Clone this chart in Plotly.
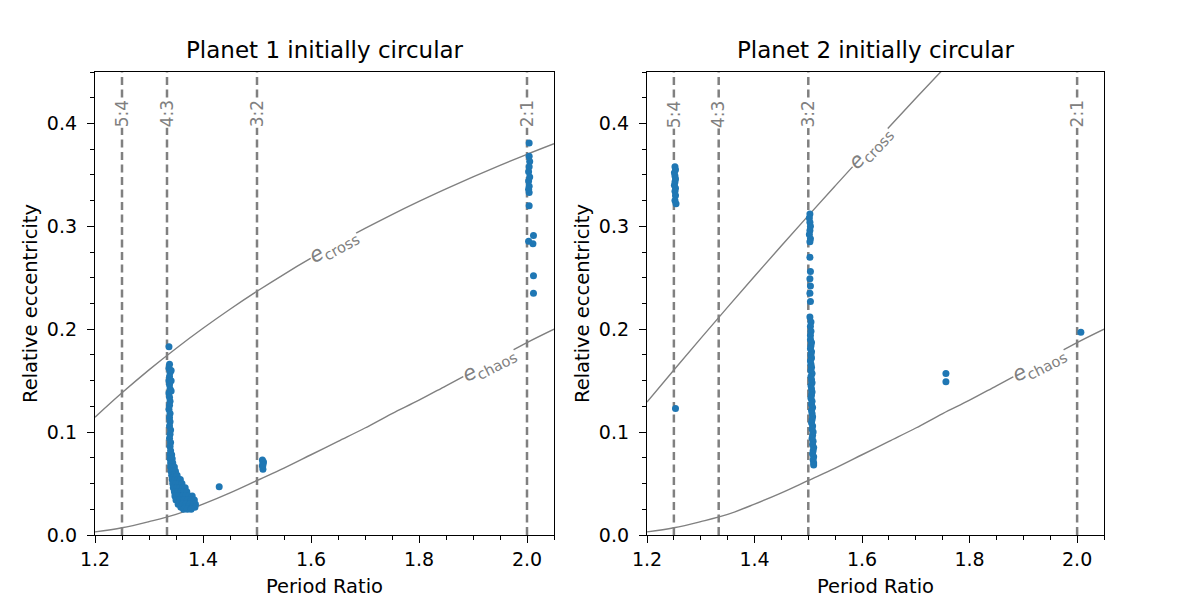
import plotly.graph_objects as go

# ---------------- data ----------------
resonances = [1.25, 4/3, 1.5, 2.0]
res_labels = ["5:4", "4:3", "3:2", "2:1"]

curve_p = [1.2, 1.25, 1.3, 1.35, 1.4, 1.45, 1.5, 1.55, 1.6, 1.65, 1.7, 1.75,
           1.8, 1.85, 1.9, 1.95, 2.0, 2.05]
ecross_left = [0.1145, 0.1382, 0.1605, 0.1813, 0.2009, 0.2194, 0.2369, 0.2534,
               0.2690, 0.2838, 0.2979, 0.3114, 0.3242, 0.3364, 0.3481, 0.3593,
               0.3700, 0.3803]
ecross_right_p = [1.2, 1.25, 1.3, 1.35, 1.4, 1.45, 1.5, 1.55, 1.6, 1.65, 1.7, 1.75, 1.8]
ecross_right = [0.1292, 0.1604, 0.1911, 0.2215, 0.2515, 0.2811, 0.3104, 0.3393,
                0.3680, 0.3963, 0.4244, 0.4522, 0.4797]
echaos = [0.003, 0.007, 0.013, 0.020, 0.030, 0.041, 0.053, 0.065, 0.078, 0.091,
          0.104, 0.118, 0.131, 0.145, 0.159, 0.173, 0.187, 0.200]

# Planet 1 initially circular
p1_x = [1.337, 1.430,
        1.510, 1.511, 1.510, 1.511, 1.512, 1.511,
        2.004, 2.004, 2.005, 2.003, 2.003, 2.004, 2.004, 2.004, 2.012, 2.011, 2.003,
        2.012, 2.012, 2.004, 2.005, 2.003,
        1.338, 1.337, 1.339, 1.338, 1.337, 1.338, 1.339, 1.337, 1.338, 1.339, 1.338,
        1.337, 1.339, 1.338, 1.339, 1.338, 1.340, 1.339, 1.338, 1.340, 1.339, 1.340,
        1.341, 1.341, 1.341,
        1.339, 1.342,
        1.339, 1.343,
        1.340, 1.344,
        1.340, 1.344, 1.347,
        1.341, 1.345, 1.349,
        1.342, 1.347, 1.352,
        1.343, 1.348, 1.354, 1.358,
        1.344, 1.350, 1.356, 1.361,
        1.345, 1.351, 1.357, 1.363, 1.367,
        1.347, 1.353, 1.359, 1.365, 1.370,
        1.348, 1.355, 1.362, 1.368, 1.374, 1.380,
        1.350, 1.357, 1.364, 1.371, 1.378, 1.384,
        1.354, 1.361, 1.368, 1.375, 1.382, 1.386,
        1.359, 1.366, 1.373, 1.380, 1.385,
        1.364, 1.371, 1.378]
p1_y = [0.183, 0.047,
        0.073, 0.070, 0.067, 0.064, 0.071, 0.068,
        0.381, 0.368, 0.363, 0.353, 0.344, 0.339, 0.333, 0.320, 0.291, 0.283, 0.2855,
        0.252, 0.235, 0.358, 0.348, 0.336,
        0.166, 0.162, 0.158, 0.154, 0.150, 0.146, 0.142, 0.138, 0.134, 0.130, 0.126,
        0.122, 0.118, 0.114, 0.110, 0.106, 0.102, 0.098, 0.094, 0.090, 0.086, 0.082,
        0.160, 0.150, 0.140,
        0.078, 0.078,
        0.074, 0.074,
        0.070, 0.070,
        0.066, 0.066, 0.066,
        0.062, 0.062, 0.062,
        0.058, 0.058, 0.058,
        0.054, 0.054, 0.054, 0.054,
        0.050, 0.050, 0.050, 0.050,
        0.046, 0.046, 0.046, 0.046, 0.046,
        0.042, 0.042, 0.042, 0.042, 0.042,
        0.038, 0.038, 0.038, 0.038, 0.038, 0.038,
        0.034, 0.034, 0.034, 0.034, 0.034, 0.034,
        0.030, 0.030, 0.030, 0.030, 0.030, 0.030,
        0.027, 0.027, 0.027, 0.027, 0.027,
        0.025, 0.025, 0.025]

# Planet 2 initially circular
p2_x = [1.252, 1.253, 1.251, 1.252, 1.253, 1.252, 1.251, 1.253, 1.252, 1.253, 1.252, 1.254,
        1.253,
        1.503, 1.502, 1.503, 1.504, 1.503, 1.502, 1.504, 1.503,
        1.503, 1.504, 1.503, 1.504, 1.503, 1.504, 1.503, 1.505, 1.504, 1.505, 1.504,
        1.504, 1.506, 1.505, 1.504, 1.506, 1.505, 1.506, 1.504, 1.505, 1.506,
        1.505, 1.507, 1.505, 1.506, 1.507, 1.505, 1.506, 1.507, 1.506, 1.505,
        1.507, 1.506, 1.508, 1.506, 1.507, 1.508, 1.507, 1.506, 1.508, 1.507,
        1.509, 1.508, 1.507, 1.509, 1.508, 1.510, 1.509, 1.508, 1.510, 1.509,
        1.510, 1.510,
        1.756, 1.756, 2.007]
p2_y = [0.358, 0.355, 0.352, 0.349, 0.346, 0.343, 0.340, 0.337, 0.334, 0.330, 0.325, 0.322,
        0.123,
        0.312, 0.308, 0.304, 0.300, 0.296, 0.292, 0.288, 0.285,
        0.270, 0.256, 0.249, 0.242, 0.235, 0.227, 0.212, 0.207, 0.203, 0.198, 0.194,
        0.190, 0.187, 0.184, 0.181, 0.178, 0.175, 0.172, 0.169, 0.166, 0.163,
        0.160, 0.157, 0.154, 0.151, 0.148, 0.145, 0.142, 0.139, 0.136, 0.133,
        0.130, 0.127, 0.124, 0.121, 0.118, 0.115, 0.112, 0.109, 0.106, 0.103,
        0.100, 0.097, 0.094, 0.091, 0.088, 0.085, 0.082, 0.079, 0.076, 0.073,
        0.070, 0.068,
        0.157, 0.149, 0.197]

# ---------------- figure ----------------
GRAY = "#808080"
BLUE = "#1f77b4"
FONT = "DejaVu Sans"

fig = go.Figure()

def add_panel(xa, ya, cross_p, cross_e, px, py, cross_lab, chaos_lab):
    fig.add_trace(go.Scatter(x=cross_p, y=cross_e, mode="lines", line=dict(color=GRAY, width=1.4, shape="spline"),
                             xaxis=xa, yaxis=ya, showlegend=False, hoverinfo="skip"))
    fig.add_trace(go.Scatter(x=curve_p, y=echaos, mode="lines", line=dict(color=GRAY, width=1.4, shape="spline"),
                             xaxis=xa, yaxis=ya, showlegend=False, hoverinfo="skip"))
    fig.add_trace(go.Scatter(x=px, y=py, mode="markers", marker=dict(color=BLUE, size=7, line=dict(width=0)),
                             xaxis=xa, yaxis=ya, showlegend=False))
    xref = "x" if xa == "x" else "x2"
    yref = "y" if ya == "y" else "y2"
    for r, lab in zip(resonances, res_labels):
        fig.add_shape(type="line", x0=r, x1=r, y0=0, y1=1, xref=xref, yref=yref + " domain",
                      line=dict(color=GRAY, width=2.5, dash="8px,4.5px"), layer="below")
        fig.add_annotation(x=r, y=0.94, xref=xref, yref=yref + " domain", text=lab, showarrow=False,
                           textangle=-90, font=dict(family=FONT, size=17, color=GRAY),
                           bgcolor="white", borderpad=0)
    # curve labels
    fig.add_annotation(x=cross_lab[0], y=cross_lab[1], xref=xref, yref=yref, text="<i>e</i><sub>cross</sub>",
                       showarrow=False, textangle=cross_lab[2], font=dict(family=FONT, size=21, color=GRAY),
                       bgcolor="white", borderpad=0)
    fig.add_annotation(x=chaos_lab[0], y=chaos_lab[1], xref=xref, yref=yref, text="<i>e</i><sub>chaos</sub>",
                       showarrow=False, textangle=chaos_lab[2], font=dict(family=FONT, size=21, color=GRAY),
                       bgcolor="white", borderpad=0)

add_panel("x", "y", curve_p, ecross_left, p1_x, p1_y, (1.641, 0.281, -29), (1.93, 0.166, -27))
add_panel("x2", "y2", ecross_right_p, ecross_right, p2_x, p2_y, (1.615, 0.376, -47), (1.93, 0.166, -27))

axis_common = dict(showline=True, linecolor="black", linewidth=1.3, mirror=True, ticks="outside",
                   ticklen=7, tickwidth=1.3, tickcolor="black", showgrid=False, zeroline=False,
                   automargin=False,
                   tickfont=dict(family=FONT, size=19, color="black"))

xticks = [1.2, 1.4, 1.6, 1.8, 2.0]
yticks = [0.0, 0.1, 0.2, 0.3, 0.4]
TITLE_FONT = dict(family=FONT, size=19.5)

fig.update_layout(
    width=1200, height=600, margin=dict(l=0, r=0, t=0, b=0),
    plot_bgcolor="white", paper_bgcolor="white",
    font=dict(family=FONT, color="black"),
    xaxis=dict(domain=[95/1200, 554/1200], range=[1.2, 2.05], tickvals=xticks,
               ticktext=[f"{v:.1f}" for v in xticks], anchor="y",
               minor=dict(dtick=0.05, ticks="outside", ticklen=4, tickcolor="black"),
               title=dict(text="Period Ratio", font=TITLE_FONT, standoff=10), **axis_common),
    yaxis=dict(domain=[1-535/600, 1-72/600], range=[0, 0.45], tickvals=yticks,
               ticktext=[f"{v:.1f}" for v in yticks], anchor="x", ticklabelstandoff=6,
               minor=dict(dtick=0.025, ticks="outside", ticklen=4, tickcolor="black"),
               title=dict(text="Relative eccentricity", font=TITLE_FONT, standoff=4), **axis_common),
    xaxis2=dict(domain=[647/1200, 1104/1200], range=[1.2, 2.05], tickvals=xticks,
                ticktext=[f"{v:.1f}" for v in xticks], anchor="y2",
                minor=dict(dtick=0.05, ticks="outside", ticklen=4, tickcolor="black"),
                title=dict(text="Period Ratio", font=TITLE_FONT, standoff=10), **axis_common),
    yaxis2=dict(domain=[1-535/600, 1-72/600], range=[0, 0.45], tickvals=yticks,
                ticktext=[f"{v:.1f}" for v in yticks], anchor="x2", ticklabelstandoff=6,
                minor=dict(dtick=0.025, ticks="outside", ticklen=4, tickcolor="black"),
                title=dict(text="Relative eccentricity", font=TITLE_FONT, standoff=4), **axis_common),
)

for xc, t in [((95+554)/2/1200, "Planet 1 initially circular"), ((647+1104)/2/1200, "Planet 2 initially circular")]:
    fig.add_annotation(x=xc, y=1-50/600, xref="paper", yref="paper", text=t, showarrow=False,
                       xanchor="center", yanchor="middle",
                       font=dict(family=FONT, size=23, color="black"))

fig.write_html("out.html")
